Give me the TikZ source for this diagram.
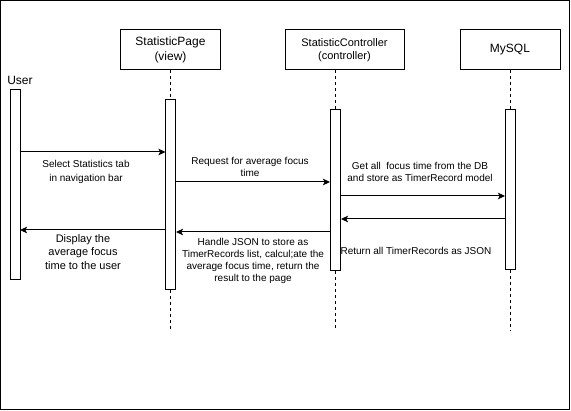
\documentclass[tikz,border=0pt]{standalone}
\usepackage{fontspec}
\setmainfont{Liberation Sans}
\usetikzlibrary{arrows.meta}
\begin{document}
\begin{tikzpicture}[x=1pt,y=-1pt,
  lifebox/.style={draw, line width=1pt, fill=white, minimum height=40pt, inner sep=0pt, align=center},
  actbox/.style={draw, line width=1pt, fill=white, minimum width=10pt, inner sep=0pt},
  lifeline/.style={dash pattern=on 3pt off 3pt, line width=0.8pt},
  msg/.style={-{Stealth[length=7pt,width=6.5pt,inset=1.5pt]}, line width=1pt},
  lbl/.style={align=center, font=\fontsize{10}{12.2}\selectfont, inner sep=0pt}
]
\useasboundingbox (0,0) rectangle (571,411);
\draw[line width=1pt] (0.5,0.5) rectangle (569.5,409.5);

% participants
\node[lifebox, minimum width=100pt, font=\fontsize{12}{15}\selectfont] (pbox) at (170.5,50) {StatisticPage\\(view)};
\node[lifebox, minimum width=119pt, font=\fontsize{11}{13}\selectfont] (cbox) at (344.5,50) {StatisticController\\(controller)};
\node[lifebox, minimum width=100pt, font=\fontsize{12}{14}\selectfont] (mbox) at (510,50) {MySQL};
\node[inner sep=0pt, font=\fontsize{12}{14}\selectfont] (user) at (20,80.5) {User};

% activations
\node[actbox, minimum height=190pt] (uact) at (15,185) {};
\node[actbox, minimum height=190pt] (pact) at (170.5,195) {};
\node[actbox, minimum height=161pt] (cact) at (335,190.5) {};
\node[actbox, minimum height=160pt] (mact) at (510,190) {};

% lifelines
\coordinate (pend) at (170.5,331);
\coordinate (cend) at (335,331);
\coordinate (mend) at (510,331);
\draw[lifeline] (pbox.south) -- (pact.north);
\draw[lifeline] (pact.south) -- (pend);
\draw[lifeline] (cact.north |- cbox.south) -- (cact.north);
\draw[lifeline] (cact.south) -- (cend);
\draw[lifeline] (mbox.south) -- (mact.north);
\draw[lifeline] (mact.south) -- (mend);

% message end points
\coordinate (m1a) at (20,152);    \coordinate (m1b) at (165.5,152);
\coordinate (m2a) at (175.5,182); \coordinate (m2b) at (330,182);
\coordinate (m3a) at (340,196);   \coordinate (m3b) at (505,196);
\coordinate (m4a) at (505,219);   \coordinate (m4b) at (341,219);
\coordinate (m5a) at (330,232);   \coordinate (m5b) at (176,232);
\coordinate (m6a) at (165.5,230); \coordinate (m6b) at (20,230);

\draw[msg] (m1a) -- (m1b);
\draw[msg] (m2a) -- (m2b);
\draw[msg] (m3a) -- (m3b);
\draw[msg] (m4a) -- (m4b);
\draw[msg] (m5a) -- (m5b);
\draw[msg] (m6a) -- (m6b);

% labels
\node[lbl, font=\fontsize{10}{14}\selectfont] (l1) at (86,172) {Select Statistics tab\\in navigation bar};
\node[lbl] (l2) at (250,167) {Request for average focus\\time};
\node[lbl, font=\fontsize{10}{11.5}\selectfont] (l3) at (420,172) {Get all\ \ focus time from the DB\\and store as TimerRecord model};
\node[lbl] (l4) at (416,251) {Return all TimerRecords as JSON};
\node[lbl] (l5) at (253,261) {Handle JSON to store as\\TimerRecords list, calcul;ate the\\average focus time, return the\\result to the page};
\node[lbl, font=\fontsize{11}{13.3}\selectfont] (l6) at (83,252) {Display the\\average focus\\time to the user};
\end{tikzpicture}
\end{document}
